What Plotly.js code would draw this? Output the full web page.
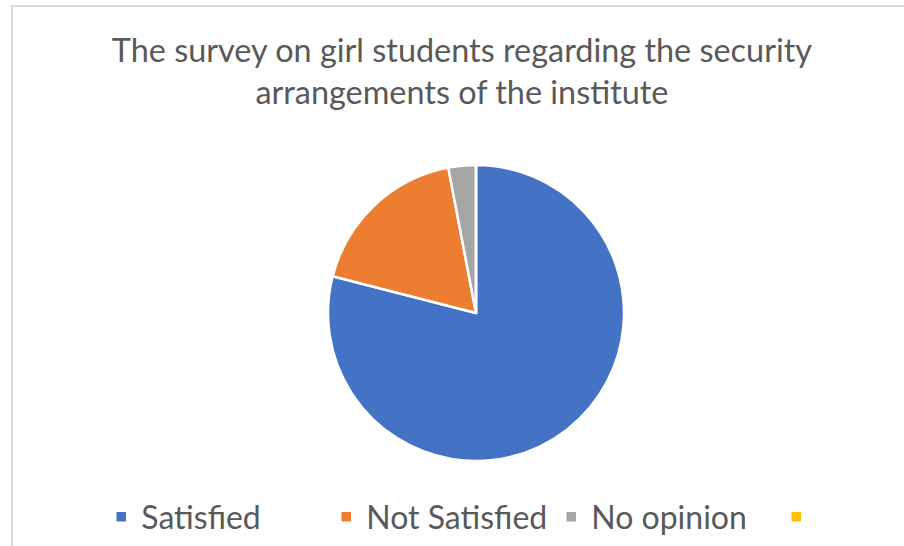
<!DOCTYPE html>
<html>
<head>
<meta charset="utf-8">
<script src="https://cdn.plot.ly/plotly-3.0.1.min.js"></script>
<style>
  html, body { margin: 0; padding: 0; width: 904px; height: 546px; overflow: hidden; background: #fff; }
  #frame { position: absolute; left: 11px; top: 5px; width: 1000px; height: 1000px; border: 2px solid #d9d9d9; box-sizing: border-box; }
  #chart { position: absolute; left: 0; top: 0; width: 904px; height: 546px; }
</style>
</head>
<body>
<div id="frame"></div>
<div id="chart"></div>
<script>
const chartTitle = 'The survey on girl students regarding the security<br>arrangements of the institute';
const categories = ['Satisfied', 'Not Satisfied', 'No opinion', ' '];
const values = [79, 18, 3, 0];
const colors = ['#4472C4', '#ED7D31', '#A5A5A5', '#FFC000'];

const trace = {
  type: 'pie',
  labels: categories,
  values: values,
  sort: false,
  direction: 'clockwise',
  rotation: 0,
  textinfo: 'none',
  hoverinfo: 'label+value+percent',
  marker: { colors: colors, line: { color: '#ffffff', width: 2.5 } },
  domain: { x: [0.3628, 0.6903], y: [0.1557, 0.6978] },
  showlegend: true
};

const layout = {
  width: 904,
  height: 546,
  margin: { l: 0, r: 0, t: 0, b: 0, autoexpand: false },
  paper_bgcolor: 'rgba(0,0,0,0)',
  plot_bgcolor: 'rgba(0,0,0,0)',
  font: { family: 'Lato, "Open Sans", sans-serif', color: '#595959' },
  title: {
    text: chartTitle,
    font: { family: 'Lato, "Open Sans", sans-serif', size: 32.4, color: '#595959' },
    x: 0.511, xanchor: 'center', xref: 'paper',
    y: 0.887, yanchor: 'top', yref: 'container'
  },
  legend: {
    orientation: 'h',
    x: 0.112, xanchor: 'left',
    y: 0.053, yanchor: 'middle',
    font: { family: 'Lato, "Open Sans", sans-serif', size: 32, color: '#595959' },
    entrywidth: 180, entrywidthmode: 'pixels',
    traceorder: 'normal'
  }
};

Plotly.newPlot('chart', [trace], layout, { displayModeBar: false, staticPlot: true });
</script>
</body>
</html>
